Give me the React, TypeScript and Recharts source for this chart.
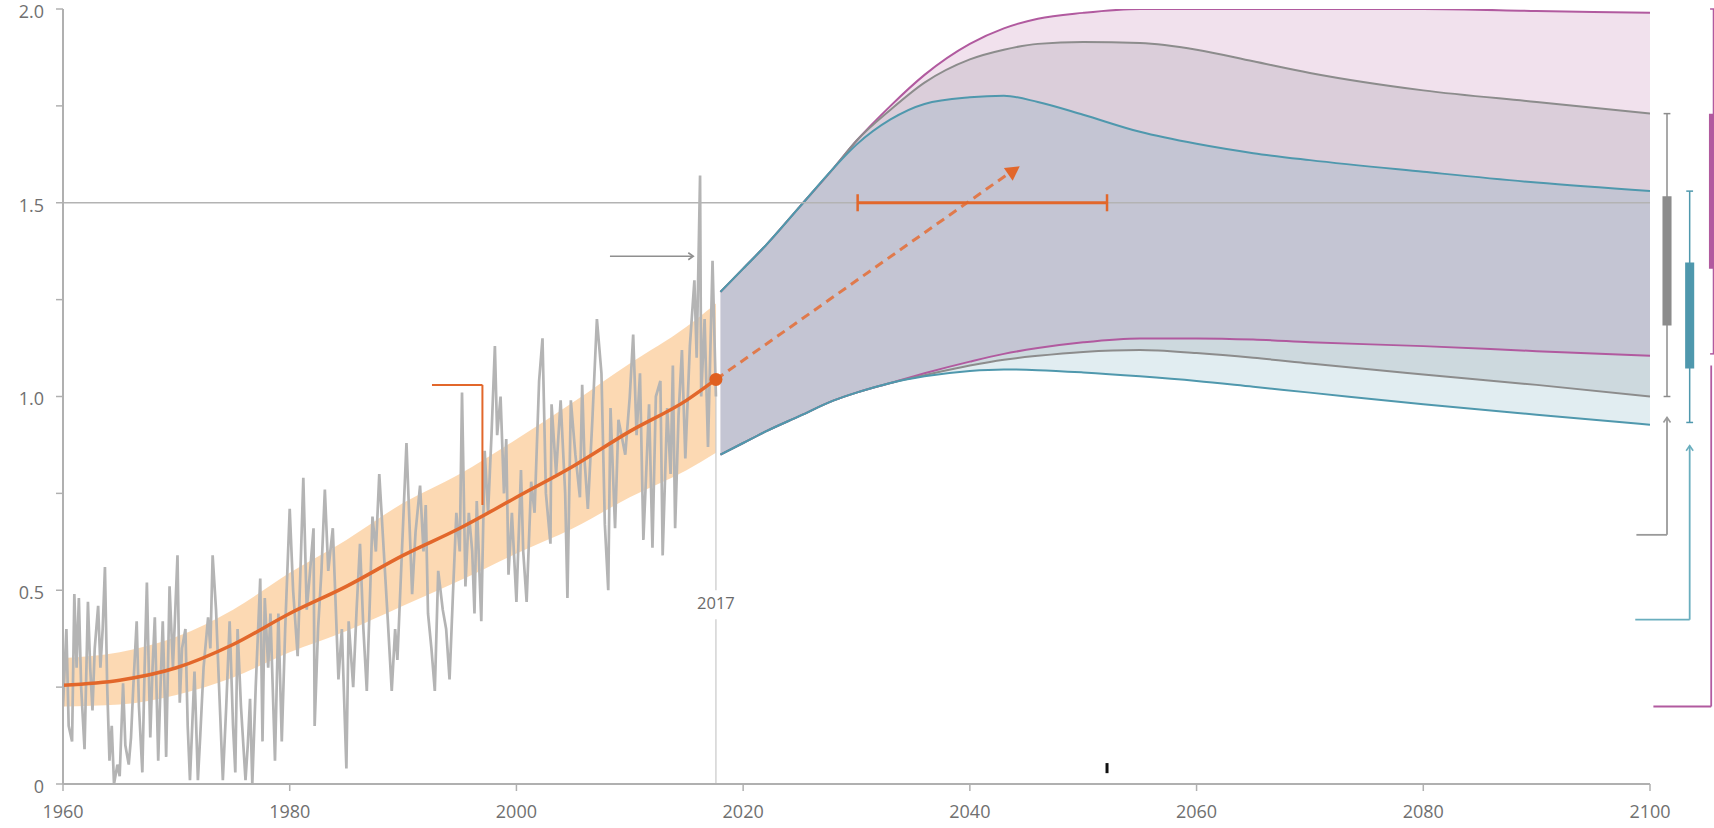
import {
  ComposedChart,
  Line,
  Area,
  XAxis,
  YAxis,
  ReferenceLine,
  ReferenceDot,
  ReferenceArea,
} from 'recharts'

const observed: [number, number][] = [
  [1960.0, 0.2], [1960.3, 0.4], [1960.5, 0.15], [1960.8, 0.11], [1961.0, 0.49], [1961.2, 0.3],
  [1961.4, 0.48], [1961.6, 0.25], [1961.9, 0.09], [1962.2, 0.47], [1962.4, 0.3], [1962.6, 0.19],
  [1962.8, 0.35], [1963.1, 0.46], [1963.3, 0.3], [1963.5, 0.4], [1963.7, 0.56], [1963.9, 0.25],
  [1964.1, 0.06], [1964.3, 0.15], [1964.5, 0.0], [1964.8, 0.05], [1965.0, 0.02], [1965.3, 0.26],
  [1965.5, 0.1], [1965.8, 0.05], [1966.0, 0.12], [1966.2, 0.25], [1966.5, 0.42], [1966.7, 0.2],
  [1967.0, 0.03], [1967.2, 0.3], [1967.4, 0.52], [1967.7, 0.12], [1967.9, 0.3], [1968.1, 0.43],
  [1968.4, 0.06], [1968.6, 0.25], [1968.8, 0.42], [1969.0, 0.2], [1969.1, 0.07], [1969.4, 0.51],
  [1969.7, 0.3], [1970.1, 0.59], [1970.3, 0.21], [1970.5, 0.35], [1970.8, 0.4], [1971.0, 0.15],
  [1971.2, 0.01], [1971.4, 0.15], [1971.6, 0.29], [1971.9, 0.01], [1972.1, 0.12], [1972.4, 0.3],
  [1972.8, 0.43], [1973.0, 0.35], [1973.2, 0.59], [1973.5, 0.45], [1973.7, 0.3], [1974.1, 0.01],
  [1974.4, 0.2], [1974.7, 0.42], [1975.0, 0.15], [1975.2, 0.03], [1975.4, 0.4], [1975.7, 0.2],
  [1976.1, 0.01], [1976.3, 0.1], [1976.5, 0.22], [1976.7, 0.0], [1977.0, 0.25], [1977.4, 0.53],
  [1977.6, 0.11], [1977.8, 0.48], [1978.1, 0.3], [1978.3, 0.44], [1978.7, 0.06], [1979.0, 0.44],
  [1979.3, 0.11], [1979.6, 0.4], [1980.0, 0.71], [1980.3, 0.5], [1980.7, 0.33], [1981.0, 0.6],
  [1981.2, 0.79], [1981.5, 0.45], [1981.8, 0.55], [1982.1, 0.66], [1982.2, 0.15], [1982.5, 0.4],
  [1982.8, 0.55], [1983.1, 0.76], [1983.4, 0.55], [1983.8, 0.66], [1984.3, 0.27], [1984.6, 0.4],
  [1985.0, 0.04], [1985.2, 0.42], [1985.6, 0.25], [1985.9, 0.45], [1986.2, 0.62], [1986.5, 0.4],
  [1986.8, 0.24], [1987.1, 0.5], [1987.3, 0.69], [1987.6, 0.6], [1987.9, 0.8], [1988.3, 0.6],
  [1988.6, 0.45], [1989.0, 0.24], [1989.3, 0.4], [1989.5, 0.32], [1989.9, 0.6], [1990.3, 0.88],
  [1990.8, 0.49], [1991.1, 0.65], [1991.5, 0.77], [1991.8, 0.6], [1992.0, 0.72], [1992.2, 0.44],
  [1992.5, 0.35], [1992.8, 0.24], [1993.1, 0.55], [1993.5, 0.45], [1993.8, 0.4], [1994.1, 0.27],
  [1994.4, 0.49], [1994.7, 0.7], [1995.0, 0.6], [1995.2, 1.01], [1995.5, 0.51], [1995.8, 0.7],
  [1996.1, 0.6], [1996.3, 0.44], [1996.5, 0.73], [1996.9, 0.42], [1997.2, 0.86], [1997.5, 0.7],
  [1997.8, 0.9], [1998.1, 1.13], [1998.3, 0.9], [1998.6, 1.0], [1998.9, 0.75], [1999.1, 0.89],
  [1999.3, 0.54], [1999.6, 0.7], [2000.0, 0.47], [2000.4, 0.81], [2000.6, 0.6], [2000.9, 0.47],
  [2001.3, 0.78], [2001.6, 0.7], [2002.0, 1.04], [2002.3, 1.15], [2002.6, 0.75], [2003.0, 0.62],
  [2003.1, 0.98], [2003.5, 0.8], [2003.9, 0.99], [2004.3, 0.75], [2004.5, 0.48], [2004.8, 0.99],
  [2005.2, 0.85], [2005.6, 0.74], [2005.8, 1.03], [2006.0, 0.84], [2006.3, 0.71], [2006.7, 0.94],
  [2007.1, 1.2], [2007.5, 1.06], [2007.8, 0.67], [2008.1, 0.5], [2008.3, 0.97], [2008.7, 0.66],
  [2009.0, 0.94], [2009.6, 0.85], [2010.0, 1.0], [2010.3, 1.16], [2010.6, 0.9], [2010.9, 1.06],
  [2011.2, 0.63], [2011.7, 0.98], [2012.0, 0.61], [2012.3, 1.0], [2012.7, 1.04], [2012.9, 0.59],
  [2013.3, 0.97], [2013.6, 0.8], [2013.8, 1.08], [2014.0, 0.66], [2014.3, 0.95], [2014.6, 1.12],
  [2014.9, 0.84], [2015.3, 1.13], [2015.7, 1.3], [2015.9, 1.1], [2016.2, 1.57], [2016.3, 1.0],
  [2016.6, 1.2], [2016.9, 0.87], [2017.3, 1.35], [2017.6, 1.0],
]

// smoothed trend with its likely range
const trendYears = [1960, 1965, 1970, 1975, 1980, 1985, 1990, 1995, 2000, 2005, 2010, 2015, 2017.6]
const trendValues = [0.255, 0.268, 0.3, 0.36, 0.44, 0.51, 0.59, 0.66, 0.74, 0.82, 0.91, 0.99, 1.044]
const bandLow = [0.2, 0.205, 0.23, 0.275, 0.34, 0.395, 0.46, 0.525, 0.595, 0.66, 0.74, 0.81, 0.855]
const bandHigh = [0.325, 0.34, 0.38, 0.45, 0.545, 0.63, 0.725, 0.8, 0.89, 0.985, 1.085, 1.18, 1.24]

// projected pathways
const projYears = [2018, 2020, 2022, 2025, 2028, 2030, 2033, 2036, 2040, 2043, 2046, 2050, 2055, 2060, 2065, 2070, 2080, 2090, 2100]
const magentaHigh = [1.27, 1.33, 1.39, 1.49, 1.59, 1.66, 1.75, 1.83, 1.91, 1.95, 1.975, 1.99, 2.0, 2.0, 2.0, 2.0, 2.0, 1.995, 1.99]
const magentaLow = [0.85, 0.88, 0.91, 0.95, 0.99, 1.01, 1.035, 1.06, 1.09, 1.11, 1.125, 1.14, 1.15, 1.15, 1.147, 1.14, 1.13, 1.117, 1.105]
const grayHigh = [1.27, 1.33, 1.39, 1.49, 1.59, 1.66, 1.74, 1.81, 1.87, 1.895, 1.91, 1.915, 1.912, 1.895, 1.865, 1.835, 1.79, 1.76, 1.73]
const grayLow = [0.85, 0.88, 0.91, 0.95, 0.99, 1.01, 1.035, 1.055, 1.08, 1.095, 1.105, 1.115, 1.12, 1.112, 1.1, 1.085, 1.057, 1.03, 1.0]
const tealHigh = [1.27, 1.33, 1.39, 1.49, 1.59, 1.65, 1.715, 1.755, 1.772, 1.776, 1.76, 1.727, 1.683, 1.652, 1.628, 1.61, 1.58, 1.552, 1.53]
const tealLow = [0.85, 0.88, 0.91, 0.95, 0.99, 1.01, 1.035, 1.052, 1.066, 1.07, 1.068, 1.062, 1.052, 1.04, 1.025, 1.01, 0.98, 0.953, 0.927]

// 2100 summaries: [whiskerLow, boxLow, boxHigh, whiskerHigh]
const grayBox = [1.0, 1.183, 1.517, 1.73]
const tealBox = [0.933, 1.072, 1.346, 1.53]
const magentaBox = [1.11, 1.33, 1.73, 2.0]

const xTicks = [1960, 1980, 2000, 2020, 2040, 2060, 2080, 2100]
const yTicks = [0, 0.25, 0.5, 0.75, 1, 1.25, 1.5, 1.75, 2]

const ORANGE = '#e2672b'
const MAGENTA = '#b15a9f'
const GRAY = '#8c8c8c'
const TEAL = '#4f98ad'
const AXIS = '#b0b0b0'
const LABEL = '#707070'
const FONT = '"Open Sans", "DejaVu Sans", sans-serif'

const obsData = observed.map(([year, value]) => ({ year, value }))
const trendData = trendYears.map((year, i) => ({
  year,
  trend: trendValues[i],
  band: [bandLow[i], bandHigh[i]],
}))
const projData = projYears.map((year, i) => ({
  year,
  magHi: magentaHigh[i],
  magLo: magentaLow[i],
  grayHi: grayHigh[i],
  grayLo: grayLow[i],
  tealHi: tealHigh[i],
  tealLo: tealLow[i],
}))

const YTick = ({ x, y, payload }: any) => {
  const v = payload.value
  if (Math.abs(v * 2 - Math.round(v * 2)) > 1e-6) return null
  return (
    <text x={x} y={y + 4} textAnchor="end" dominantBaseline="middle" fill={LABEL} fontSize={18} fontFamily={FONT}>
      {v === 0 ? '0' : v.toFixed(1)}
    </text>
  )
}

const Triangle = ({ cx, cy, angle, size, color }: any) => (
  <polygon
    points={`0,0 ${-size},${-size * 0.55} ${-size},${size * 0.55}`}
    transform={`translate(${cx},${cy}) rotate(${angle})`}
    fill={color}
  />
)

const Chevron = ({ cx, cy, angle, color }: any) => (
  <polyline
    points="-5,-3.5 0,0 -5,3.5"
    transform={`translate(${cx},${cy}) rotate(${angle})`}
    fill="none"
    stroke={color}
    strokeWidth={1.6}
  />
)

const boxPlot = (x: number, b: number[], color: string, key: string) => [
  <ReferenceLine key={key + 'w'} segment={[{ x, y: b[0] }, { x, y: b[3] }]} stroke={color} strokeWidth={1.5} ifOverflow="visible" />,
  <ReferenceLine key={key + 'c1'} segment={[{ x: x - 0.3, y: b[0] }, { x: x + 0.3, y: b[0] }]} stroke={color} strokeWidth={1.5} ifOverflow="visible" />,
  <ReferenceLine key={key + 'c2'} segment={[{ x: x - 0.3, y: b[3] }, { x: x + 0.3, y: b[3] }]} stroke={color} strokeWidth={1.5} ifOverflow="visible" />,
  <ReferenceArea key={key + 'b'} x1={x - 0.4} x2={x + 0.4} y1={b[1]} y2={b[2]} fill={color} fillOpacity={1} stroke="none" ifOverflow="visible" />,
]

const bracket = (x: number, top: number, bottom: number, left: number, color: string, key: string, caret: boolean) => [
  <ReferenceLine key={key + 'v'} segment={[{ x, y: top }, { x, y: bottom }]} stroke={color} strokeWidth={1.8} ifOverflow="visible" />,
  <ReferenceLine key={key + 'h'} segment={[{ x, y: bottom }, { x: left, y: bottom }]} stroke={color} strokeWidth={1.8} ifOverflow="visible" />,
  caret ? (
    <ReferenceDot key={key + 'a'} x={x} y={top} ifOverflow="visible" shape={(p: any) => <Chevron {...p} angle={-90} color={color} />} />
  ) : null,
]

export default function App() {
  return (
    <div style={{ position: 'absolute', left: 0, top: 0, background: '#fff' }}>
      <ComposedChart width={1714} height={828} margin={{ top: 9, right: 64, left: 0, bottom: 4 }}>
        <XAxis
          dataKey="year"
          type="number"
          domain={[1960, 2100]}
          ticks={xTicks}
          allowDataOverflow
          tickSize={7}
          tickMargin={14}
          height={40}
          axisLine={{ stroke: AXIS, strokeWidth: 2 }}
          tickLine={{ stroke: AXIS, strokeWidth: 1.5 }}
          tick={{ fill: LABEL, fontSize: 18, fontFamily: FONT }}
        />
        <YAxis
          type="number"
          domain={[0, 2]}
          ticks={yTicks}
          allowDataOverflow
          width={63}
          tickSize={7}
          tickMargin={12}
          axisLine={{ stroke: AXIS, strokeWidth: 2 }}
          tickLine={{ stroke: AXIS, strokeWidth: 1.5 }}
          tick={<YTick />}
        />

        <Area data={projData} dataKey={(d: any) => [d.magLo, d.magHi]} type="monotone" stroke="none" fill="#c98bbb" fillOpacity={0.26} isAnimationActive={false} activeDot={false} />
        <Area data={projData} dataKey={(d: any) => [d.grayLo, d.grayHi]} type="monotone" stroke="none" fill="#8e8e96" fillOpacity={0.22} isAnimationActive={false} activeDot={false} />
        <Area data={projData} dataKey={(d: any) => [d.tealLo, d.tealHi]} type="monotone" stroke="none" fill="#6aa7ba" fillOpacity={0.2} isAnimationActive={false} activeDot={false} />

        <Line data={projData} dataKey="magHi" type="monotone" stroke={MAGENTA} strokeWidth={2} dot={false} activeDot={false} isAnimationActive={false} />
        <Line data={projData} dataKey="magLo" type="monotone" stroke={MAGENTA} strokeWidth={2} dot={false} activeDot={false} isAnimationActive={false} />
        <Line data={projData} dataKey="grayHi" type="monotone" stroke={GRAY} strokeWidth={2} dot={false} activeDot={false} isAnimationActive={false} />
        <Line data={projData} dataKey="grayLo" type="monotone" stroke={GRAY} strokeWidth={2} dot={false} activeDot={false} isAnimationActive={false} />
        <Line data={projData} dataKey="tealHi" type="monotone" stroke={TEAL} strokeWidth={2} dot={false} activeDot={false} isAnimationActive={false} />
        <Line data={projData} dataKey="tealLo" type="monotone" stroke={TEAL} strokeWidth={2} dot={false} activeDot={false} isAnimationActive={false} />

        <ReferenceLine y={1.5} stroke="#b3b3b3" strokeWidth={1.5} />

        <ReferenceLine segment={[{ x: 2017.6, y: 1.04 }, { x: 2017.6, y: 0.5 }]} stroke="#c8c8c8" strokeWidth={1.2} />
        <ReferenceLine segment={[{ x: 2017.6, y: 0.425 }, { x: 2017.6, y: 0 }]} stroke="#c8c8c8" strokeWidth={1.2} />
        <ReferenceDot
          x={2017.6}
          y={0.4625}
          shape={(p: any) => (
            <text x={p.cx} y={p.cy} textAnchor="middle" dominantBaseline="middle" fill="#6a6a6a" fontSize={16.5} fontFamily={FONT}>
              2017
            </text>
          )}
        />

        <Line data={obsData} dataKey="value" type="linear" stroke="#b4b4b4" strokeWidth={2.7} dot={false} activeDot={false} isAnimationActive={false} />
        <Area data={trendData} dataKey="band" type="monotone" stroke="none" fill="#fbc68c" fillOpacity={0.66} isAnimationActive={false} activeDot={false} />
        <Line data={trendData} dataKey="trend" type="monotone" stroke={ORANGE} strokeWidth={3.5} dot={false} activeDot={false} isAnimationActive={false} />

        {/* annotations */}
        <ReferenceLine segment={[{ x: 1992.55, y: 1.03 }, { x: 1997, y: 1.03 }]} stroke={ORANGE} strokeWidth={2} />
        <ReferenceLine segment={[{ x: 1997, y: 1.03 }, { x: 1997, y: 0.72 }]} stroke={ORANGE} strokeWidth={2} />

        <ReferenceLine segment={[{ x: 2008.25, y: 1.362 }, { x: 2015.55, y: 1.362 }]} stroke="#8f8f8f" strokeWidth={1.6} />
        <ReferenceDot x={2015.6} y={1.362} shape={(p: any) => <Chevron {...p} angle={0} color="#8f8f8f" />} />

        <ReferenceLine segment={[{ x: 2017.6, y: 1.044 }, { x: 2043.4, y: 1.575 }]} stroke="#e07a4c" strokeWidth={3} strokeDasharray="9 6" />
        <ReferenceDot x={2044.4} y={1.594} shape={(p: any) => <Triangle {...p} angle={-35} size={14} color="#e2672b" />} />

        <ReferenceLine segment={[{ x: 2030.1, y: 1.5 }, { x: 2052.1, y: 1.5 }]} stroke={ORANGE} strokeWidth={3} />
        <ReferenceLine segment={[{ x: 2030.1, y: 1.478 }, { x: 2030.1, y: 1.522 }]} stroke={ORANGE} strokeWidth={2.5} />
        <ReferenceLine segment={[{ x: 2052.1, y: 1.478 }, { x: 2052.1, y: 1.522 }]} stroke={ORANGE} strokeWidth={2.5} />

        <ReferenceLine segment={[{ x: 2052.1, y: 0.028 }, { x: 2052.1, y: 0.054 }]} stroke="#111" strokeWidth={3} />

        <ReferenceDot x={2017.6} y={1.044} r={6.5} fill="#e0601f" stroke="none" />

        {boxPlot(2101.5, grayBox, GRAY, 'gb')}
        {boxPlot(2103.5, tealBox, TEAL, 'tb')}
        {boxPlot(2105.6, magentaBox, MAGENTA, 'mb')}

        {bracket(2101.5, 0.946, 0.643, 2098.8, '#9a9a9a', 'gk', true)}
        {bracket(2103.5, 0.873, 0.424, 2098.7, '#6aaebe', 'tk', true)}
        {bracket(2105.4, 1.08, 0.2, 2100.3, MAGENTA, 'mk', false)}
      </ComposedChart>
    </div>
  )
}
